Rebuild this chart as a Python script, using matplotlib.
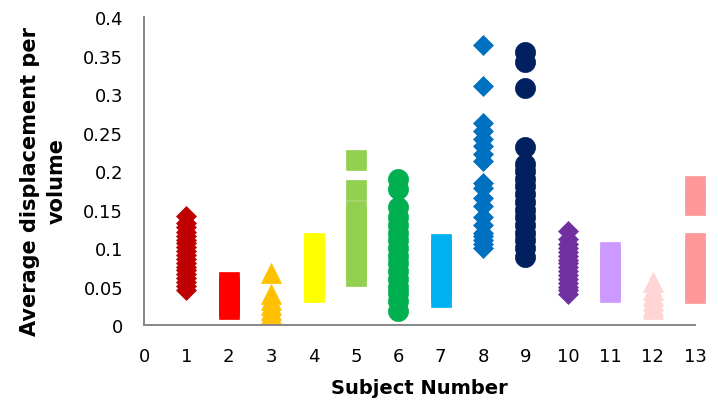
import matplotlib
matplotlib.use("Agg")
import matplotlib.pyplot as plt

subjects = list(range(1, 14))
s1 = [0.142, 0.133, 0.127, 0.121, 0.115, 0.111, 0.106, 0.101, 0.096, 0.091, 0.086, 0.081, 0.076, 0.071, 0.066, 0.061, 0.056, 0.051, 0.046]
s2 = [0.056, 0.050, 0.045, 0.040, 0.035, 0.030, 0.025, 0.021]
s3 = [0.067, 0.040, 0.033, 0.026, 0.020, 0.014]
s4 = [0.106, 0.100, 0.095, 0.090, 0.085, 0.080, 0.075, 0.070, 0.065, 0.060, 0.055, 0.050, 0.043]
s5 = [0.214, 0.176, 0.148, 0.140, 0.130, 0.120, 0.110, 0.100, 0.090, 0.080, 0.072, 0.064]
s6 = [0.190, 0.177, 0.153, 0.140, 0.130, 0.120, 0.110, 0.100, 0.090, 0.080, 0.070, 0.060, 0.050, 0.042, 0.031, 0.018]
s7 = [0.105, 0.098, 0.090, 0.082, 0.075, 0.068, 0.060, 0.052, 0.044, 0.036]
s8 = [0.364, 0.311, 0.262, 0.252, 0.242, 0.233, 0.222, 0.213, 0.185, 0.178, 0.165, 0.155, 0.140, 0.130, 0.120, 0.115, 0.110, 0.105, 0.100]
s9 = [0.355, 0.342, 0.308, 0.231, 0.209, 0.200, 0.190, 0.180, 0.170, 0.160, 0.150, 0.140, 0.130, 0.120, 0.110, 0.100, 0.088]
s10 = [0.122, 0.112, 0.105, 0.100, 0.095, 0.090, 0.085, 0.080, 0.075, 0.070, 0.065, 0.060, 0.055, 0.050, 0.045, 0.040]
s11 = [0.095, 0.088, 0.080, 0.072, 0.064, 0.056, 0.050, 0.043]
s12 = [0.056, 0.045, 0.038, 0.031, 0.025, 0.021]
s13 = [0.180, 0.168, 0.156, 0.106, 0.098, 0.090, 0.080, 0.070, 0.060, 0.050, 0.042]

series = [s1, s2, s3, s4, s5, s6, s7, s8, s9, s10, s11, s12, s13]
colors = ["#C00000", "#FF0000", "#FFC000", "#FFFF00", "#92D050", "#00B050", "#00B0F0",
          "#0070C0", "#002060", "#7030A0", "#CC99FF", "#FFD5D5", "#FF9999"]
markers = ["D", "s", "^", "s", "s", "o", "s", "D", "o", "D", "s", "^", "s"]
sizes = {"D": 10.5, "s": 15, "^": 15, "o": 14.5}

xticks = list(range(0, 14))
yticks = [0, 0.05, 0.1, 0.15, 0.2, 0.25, 0.3, 0.35, 0.4]
ytick_labels = ["0", "0.05", "0.1", "0.15", "0.2", "0.25", "0.3", "0.35", "0.4"]

fig = plt.figure(figsize=(7.18, 4.02), dpi=100)
ax = fig.add_axes([0.2006, 0.189, 0.7674, 0.766])

for subj, vals, c, m in zip(subjects, series, colors, markers):
    ax.plot([subj] * len(vals), vals, linestyle="none", marker=m, markersize=sizes[m],
            markerfacecolor=c, markeredgecolor=c, markeredgewidth=0.5, clip_on=False)

ax.set_xlim(0, 13)
ax.set_ylim(0, 0.4)
ax.set_xticks(xticks)
ax.set_xticklabels([str(t) for t in xticks])
ax.set_yticks(yticks)
ax.set_yticklabels(ytick_labels)
ax.tick_params(length=0, labelsize=13, colors="black")
ax.tick_params(axis="x", pad=16)
ax.tick_params(axis="y", pad=15)
for side in ["top", "right"]:
    ax.spines[side].set_visible(False)
for side in ["left", "bottom"]:
    ax.spines[side].set_color("#868686")
    ax.spines[side].set_linewidth(1.4)

ax.set_xlabel("Subject Number", fontsize=14, fontweight="bold", labelpad=9)
ax.set_ylabel("Average displacement per\nvolume", fontsize=15, fontweight="bold",
              linespacing=1.4)
ax.yaxis.set_label_coords(-0.14, 0.47)

fig.savefig("out.png", dpi=100)
